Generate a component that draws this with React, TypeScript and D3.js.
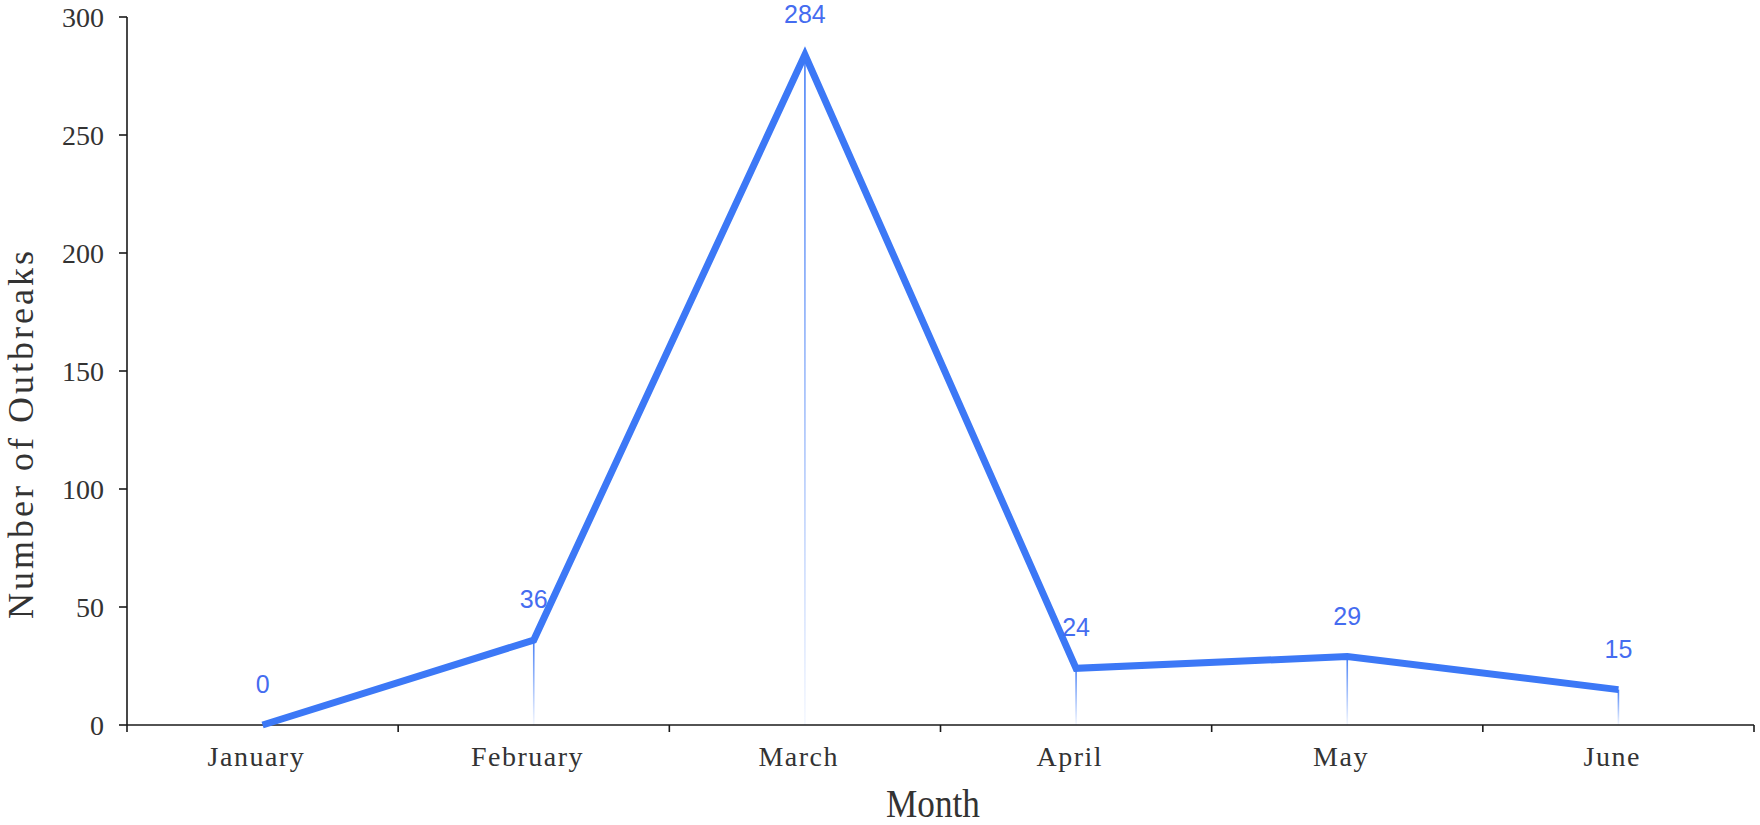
import React from "react";
import * as d3 from "d3";

const months = ["January", "February", "March", "April", "May", "June"];
const outbreaks = [0, 36, 284, 24, 29, 15];
const yTicks = [0, 50, 100, 150, 200, 250, 300];
const xTitle = "Month";
const yTitle = "Number of Outbreaks";

const W = 1760;
const H = 825;
const LEFT = 127;
const RIGHT = 1754;
const TOP = 17;
const BOTTOM = 725;

const serif = "'Liberation Serif', 'DejaVu Serif', serif";
const lineColor = "#3c78f6";
const labelColor = "#456cf0";
const axisColor = "#1a1a1a";
const textColor = "#333";

function SText(props: {
  x: number;
  y: number;
  size: number;
  sx?: number;
  ls?: number;
  anchor: "start" | "middle" | "end";
  rotate?: number;
  dy?: string;
  children: React.ReactNode;
}) {
  const { x, y, size, sx = 1, ls = 0, anchor, rotate = 0, dy, children } = props;
  // compensate trailing letter-spacing so anchoring stays on the glyphs
  const shift = anchor === "middle" ? ls / 2 : anchor === "end" ? ls : 0;
  return (
    <text
      transform={`translate(${x},${y}) rotate(${rotate}) scale(${sx},1)`}
      x={shift}
      textAnchor={anchor}
      fontFamily={serif}
      fontSize={size}
      letterSpacing={ls}
      fill={textColor}
      dy={dy}
    >
      {children}
    </text>
  );
}

export default function App() {
  const x = d3.scaleBand<string>().domain(months).range([LEFT, RIGHT]);
  const y = d3.scaleLinear().domain([0, 300]).range([BOTTOM, TOP]);
  const bw = x.bandwidth();
  const cx = (m: string) => (x(m) as number) + bw / 2;
  const pts = months.map((m, i) => ({ m, v: outbreaks[i] }));
  const line = d3
    .line<{ m: string; v: number }>()
    .x((d) => cx(d.m))
    .y((d) => y(d.v));
  const boundaries = [...months.map((m) => x(m) as number), x.range()[1]];

  return (
    <svg
      width={W}
      height={H}
      style={{ position: "absolute", left: 0, top: 0, background: "#fff" }}
    >
      <defs>
        <linearGradient id="drop" x1="0" y1="0" x2="0" y2="1">
          <stop offset="0%" stopColor={lineColor} stopOpacity={0.95} />
          <stop offset="100%" stopColor={lineColor} stopOpacity={0.05} />
        </linearGradient>
      </defs>

      {/* drop lines */}
      {pts.map((d) =>
        d.v > 0 ? (
          <rect
            key={"drop-" + d.m}
            x={cx(d.m) - 0.8}
            y={y(d.v)}
            width={1.6}
            height={y(0) - y(d.v)}
            fill="url(#drop)"
          />
        ) : null
      )}

      {/* x axis */}
      <line x1={LEFT} x2={RIGHT} y1={y(0)} y2={y(0)} stroke={axisColor} strokeWidth={1.6} />
      {boundaries.map((b, i) => (
        <line key={"xt" + i} x1={b} x2={b} y1={y(0)} y2={y(0) + 7} stroke={axisColor} strokeWidth={1.6} />
      ))}
      {months.map((m) => (
        <SText key={"xl" + m} x={cx(m) - 7} y={766} size={28} ls={1.5} anchor="middle">
          {m}
        </SText>
      ))}

      {/* y axis */}
      <line x1={LEFT} x2={LEFT} y1={y(300)} y2={y(0)} stroke={axisColor} strokeWidth={1.6} />
      {yTicks.map((t) => (
        <g key={"yt" + t}>
          <line x1={LEFT - 8} x2={LEFT} y1={y(t)} y2={y(t)} stroke={axisColor} strokeWidth={1.6} />
          <SText x={104} y={y(t)} dy="0.34em" size={28} anchor="end">
            {t}
          </SText>
        </g>
      ))}

      {/* titles */}
      <SText x={933} y={817} size={40} sx={0.88} anchor="middle">
        {xTitle}
      </SText>
      <SText x={33} y={435} size={36} ls={3} anchor="middle" rotate={-90}>
        {yTitle}
      </SText>

      {/* line */}
      <path
        d={line(pts) || ""}
        fill="none"
        stroke={lineColor}
        strokeWidth={7}
        strokeLinejoin="miter"
        strokeMiterlimit={4}
      />

      {/* data labels */}
      {pts.map((d) => (
        <text
          key={"dl" + d.m}
          x={cx(d.m)}
          y={y(d.v) - 32}
          textAnchor="middle"
          fontFamily="'Liberation Sans', Arial, sans-serif"
          fontSize={25}
          fill={labelColor}
        >
          {d.v}
        </text>
      ))}
    </svg>
  );
}
